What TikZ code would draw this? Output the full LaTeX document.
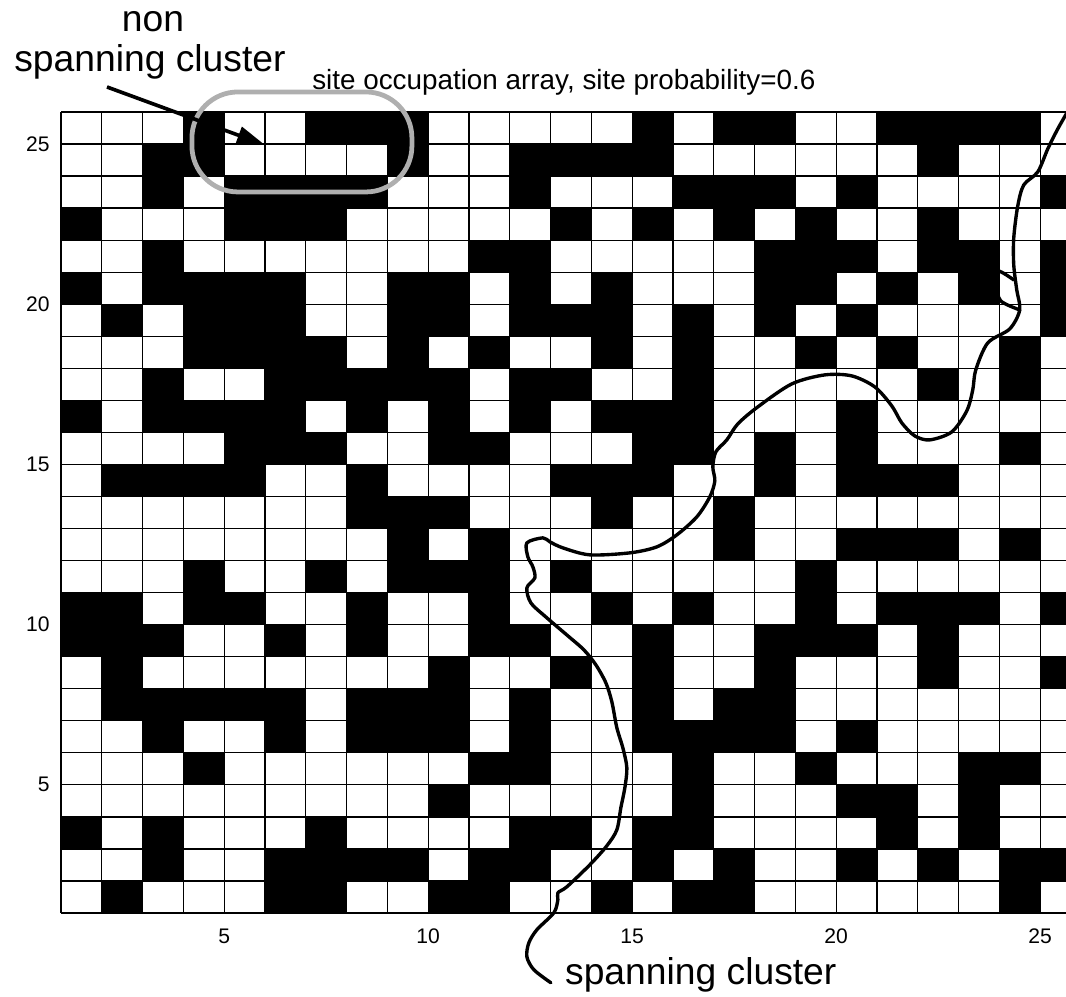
\documentclass[tikz,border=0pt]{standalone}
\usepackage{fontspec}
\setmainfont{Liberation Sans}
\usetikzlibrary{arrows.meta}
\definecolor{GrisCercle}{RGB}{175,175,175}
\tikzset{caseNoire/.style={fill=black}}
\tikzset{trame/.style={draw=black, line width=0.9pt}}
\tikzset{courbe/.style={draw=black, line width=2.4pt, line cap=round, line join=round}}
\tikzset{fleche/.style={-{Triangle[length=7mm, width=4.4mm]}, draw=black, line width=2.6pt}}
\tikzset{cercle/.style={draw=GrisCercle, line width=3.4pt, rounded corners=1.15cm,
  minimum width=5.5cm, minimum height=2.5cm, inner sep=0pt}}
\tikzset{etiquette/.style={font=\fontsize{26.5}{29}\selectfont, inner sep=0pt}}
\tikzset{titre/.style={font=\fontsize{19.8}{22}\selectfont, inner sep=0pt}}
\tikzset{graduation/.style={font=\fontsize{15}{17}\selectfont, inner sep=0pt}}

\begin{document}
\begin{tikzpicture}
\path[use as bounding box] (0,0) rectangle (26.65,24.9);
\begin{scope}
\clip (0,0) rectangle (26.65,24.9);
\begin{scope}[shift={(0.505,1.274)}, x=1.02cm, y=0.801cm]
\foreach \ligne [count=\j] in {
  {0,0,0,1,0,0,1,1,1,0,0,0,0,0,1,0,1,1,0,0,1,1,1,1,0},
  {0,0,1,1,0,0,0,0,1,0,0,1,1,1,1,0,0,0,0,0,0,1,0,0,0},
  {0,0,1,0,1,1,1,1,0,0,0,1,0,0,0,1,1,1,0,1,0,0,0,0,1},
  {1,0,0,0,1,1,1,0,0,0,0,0,1,0,1,0,1,0,1,0,0,1,0,0,0},
  {0,0,1,0,0,0,0,0,0,0,1,1,0,0,0,0,0,1,1,1,0,1,1,0,1},
  {1,0,1,1,1,1,0,0,1,1,0,1,0,1,0,0,0,1,1,0,1,0,1,0,1},
  {0,1,0,1,1,1,0,0,1,1,0,1,1,1,0,1,0,1,0,1,0,0,0,0,1},
  {0,0,0,1,1,1,1,0,1,0,1,0,0,1,0,1,0,0,1,0,1,0,0,1,0},
  {0,0,1,0,0,1,1,1,1,1,0,1,1,0,0,1,0,0,0,0,0,1,0,1,0},
  {1,0,1,1,1,1,0,1,0,1,0,1,0,1,1,1,0,0,0,1,0,0,0,0,0},
  {0,0,0,0,1,1,1,0,0,1,1,0,0,0,1,1,0,1,0,1,0,0,0,1,0},
  {0,1,1,1,1,0,0,1,0,0,0,0,1,1,1,0,0,1,0,1,1,1,0,0,0},
  {0,0,0,0,0,0,0,1,1,1,0,0,0,1,0,0,1,0,0,0,0,0,0,0,0},
  {0,0,0,0,0,0,0,0,1,0,1,0,0,0,0,0,1,0,0,1,1,1,0,1,0},
  {0,0,0,1,0,0,1,0,1,1,1,0,1,0,0,0,0,0,1,0,0,0,0,0,0},
  {1,1,0,1,1,0,0,1,0,0,1,0,0,1,0,1,0,0,1,0,1,1,1,0,1},
  {1,1,1,0,0,1,0,1,0,0,1,1,0,0,1,0,0,1,1,1,0,1,0,0,0},
  {0,1,0,0,0,0,0,0,0,1,0,0,1,0,1,0,0,1,0,0,0,1,0,0,1},
  {0,1,1,1,1,1,0,1,1,1,0,1,0,0,1,0,1,1,0,0,0,0,0,0,0},
  {0,0,1,0,0,1,0,1,1,1,0,1,0,0,1,1,1,1,0,1,0,0,0,0,0},
  {0,0,0,1,0,0,0,0,0,0,1,1,0,0,0,1,0,0,1,0,0,0,1,1,0},
  {0,0,0,0,0,0,0,0,0,1,0,0,0,0,0,1,0,0,0,1,1,0,1,0,0},
  {1,0,1,0,0,0,1,0,0,0,0,1,1,0,1,1,0,0,0,0,1,0,1,0,0},
  {0,0,1,0,0,1,1,1,1,0,1,1,0,0,1,0,1,0,0,1,0,1,0,1,1},
  {0,1,0,0,0,1,1,0,0,1,1,0,0,1,0,1,1,0,0,0,0,0,0,1,0}}{
  \foreach \v [count=\i] in \ligne {
    \ifnum\v=1 \fill[caseNoire] (\i,26-\j) rectangle ++(1,1); \fi
  }
}
\foreach \k in {1,...,26} {
  \draw[trame] (\k,1) -- (\k,26);
  \draw[trame] (1,\k) -- (26,\k);
}
\foreach \t in {5,10,15,20,25} {
  \node[graduation] (gx\t) at (\t,1) [yshift=-0.575cm] {\t};
  \node[graduation, anchor=east] (gy\t) at (1,\t) [xshift=-0.28cm] {\t};
}
\end{scope}
\end{scope}
\begin{scope}[x=0.025cm, y=-0.025cm, yshift=24.9cm]
\node[etiquette] (non) at (153,22) {non};
\node[etiquette] (nonSpan) at (150,62) {spanning cluster};
\node[titre] (titre) at (564,82) {site occupation array, site probability=0.6};
\node[etiquette, anchor=west] (span) at (565,975) {spanning cluster};
\node[cercle] (amas) at (302,142) {};
\coordinate (queue) at (107,87);
\coordinate (pointe) at (265,145);
\draw[fleche] (queue) -- (pointe);
\draw[courbe] plot[smooth, tension=0.5] coordinates {(551,983) (534,970) (527,957)
  (529,943) (537,930) (554,913) (558,900) (558,893) (567,887) (590,865) (607,846)
  (617,830) (621,808) (625,788) (627,768) (623,748) (617,728) (612,702) (606,683)
  (596,665) (584,650) (568,636) (547,618) (531,603) (527,588) (535,578) (533,567)
  (528,557) (527,543) (543,538) (550,542) (563,548) (590,555) (630,553) (657,547)
  (677,535) (697,517) (710,497) (715,481) (713,467) (716,452) (727,440) (738,424)
  (758,407) (792,384) (825,375) (852,376) (875,387) (892,406) (902,423) (915,436)
  (930,440) (952,432) (967,411) (973,390) (976,370) (988,343) (1010,329) (1020,310)
  (1017,290) (1014,265) (1014,238) (1018,206) (1024,185) (1038,172) (1048,149)
  (1058,129) (1070,108)};
\draw[courbe] plot[smooth, tension=0.5] coordinates {(1020,310) (1001,301) (997,286)
  (998,271) (1014,280)};
\end{scope}
\end{tikzpicture}
\end{document}
